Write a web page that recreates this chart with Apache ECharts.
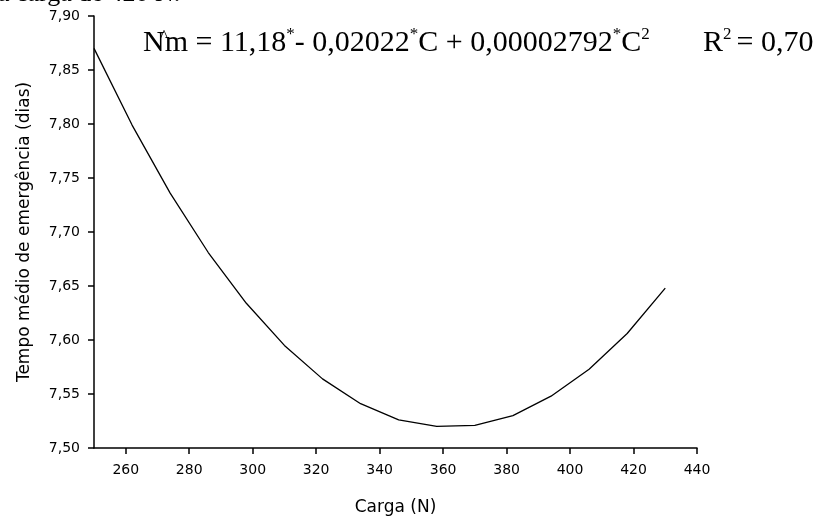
<!DOCTYPE html>
<html>
<head>
<meta charset="utf-8">
<script src="https://cdn.jsdelivr.net/npm/echarts@6/dist/echarts.min.js"></script>
<style>
html,body{margin:0;padding:0;background:#fff;}
#chart{width:817px;height:521px;}
</style>
</head>
<body>
<div id="chart"></div>
<script>
// Data
const carga = [250, 262, 274, 286, 298, 310, 322, 334, 346, 358, 370, 382, 394, 406, 418, 430];
const tempo = [7.870, 7.799, 7.736, 7.681, 7.634, 7.595, 7.564, 7.541, 7.526, 7.520, 7.521, 7.530, 7.548, 7.573, 7.606, 7.648];
const xTicks = [260, 280, 300, 320, 340, 360, 380, 400, 420, 440];
const yMin = 7.50, yMax = 7.90, yStep = 0.05;
const xName = 'Carga (N)';
const yName = 'Tempo médio de emergência (dias)';
const topText = 'a carga de 420 N.';

const chart = echarts.init(document.getElementById('chart'), null, {renderer: 'canvas'});
const axisFont = 'DejaVu Sans';
const serif = 'Liberation Serif';

const supStyle = {fontFamily: serif, fontSize: 17, verticalAlign: 'top', lineHeight: 35, color: '#000'};
const mainStyle = {fontFamily: serif, fontSize: 30, lineHeight: 35, color: '#000'};
const padStyle = {fontFamily: serif, fontSize: 30, lineHeight: 35, color: '#000', padding: [0, 0, 0, 5]};

chart.setOption({
  backgroundColor: '#fff',
  animation: false,
  grid: {left: 94, right: 120, top: 16, bottom: 72, containLabel: false},
  xAxis: {
    type: 'value',
    min: 250,
    max: 440,
    name: xName,
    nameLocation: 'middle',
    nameGap: 51,
    nameTextStyle: {fontFamily: axisFont, fontSize: 17, color: '#000'},
    axisLine: {show: true, onZero: false, lineStyle: {color: '#000', width: 1.5}},
    axisTick: {show: true, length: 6, customValues: xTicks, lineStyle: {color: '#000', width: 1.5}},
    axisLabel: {customValues: xTicks, margin: 15, fontFamily: axisFont, fontSize: 14, color: '#000'},
    splitLine: {show: false}
  },
  yAxis: {
    type: 'value',
    min: yMin,
    max: yMax,
    interval: yStep,
    name: yName,
    nameLocation: 'middle',
    nameGap: 61,
    nameTextStyle: {fontFamily: axisFont, fontSize: 17, color: '#000'},
    axisLine: {show: true, onZero: false, lineStyle: {color: '#000', width: 1.5}},
    axisTick: {show: true, length: 6, lineStyle: {color: '#000', width: 1.5}},
    axisLabel: {
      margin: 14, fontFamily: axisFont, fontSize: 14, color: '#000',
      formatter: v => v.toFixed(2).replace('.', ',')
    },
    splitLine: {show: false}
  },
  series: [{
    type: 'line',
    data: carga.map((c, i) => [c, tempo[i]]),
    showSymbol: false,
    smooth: false,
    lineStyle: {color: '#000', width: 1.3}
  }],
  graphic: [
    {
      type: 'text', left: -2, top: -19, silent: true,
      style: {text: topText, fontFamily: serif, fontSize: 26, fill: '#000'}
    },
    {
      type: 'text', x: 143, y: 26, silent: true,
      style: {
        text: '{m|Nm = 11,18}{s|*}{m|- 0,02022}{s|*}{m|C + 0,00002792}{s|*}{m|C}{s|2}',
        verticalAlign: 'top', align: 'left',
        rich: {m: mainStyle, s: supStyle}
      }
    },
    {
      type: 'text', x: 160, y: 37, silent: true,
      style: {text: '^', fontFamily: serif, fontSize: 17, fill: '#000', verticalAlign: 'middle', align: 'left'}
    },
    {
      type: 'text', x: 703, y: 26, silent: true,
      style: {
        text: '{m|R}{s|2}{p|= 0,70}',
        verticalAlign: 'top', align: 'left',
        rich: {m: mainStyle, s: supStyle, p: padStyle}
      }
    }
  ]
});
</script>
</body>
</html>
